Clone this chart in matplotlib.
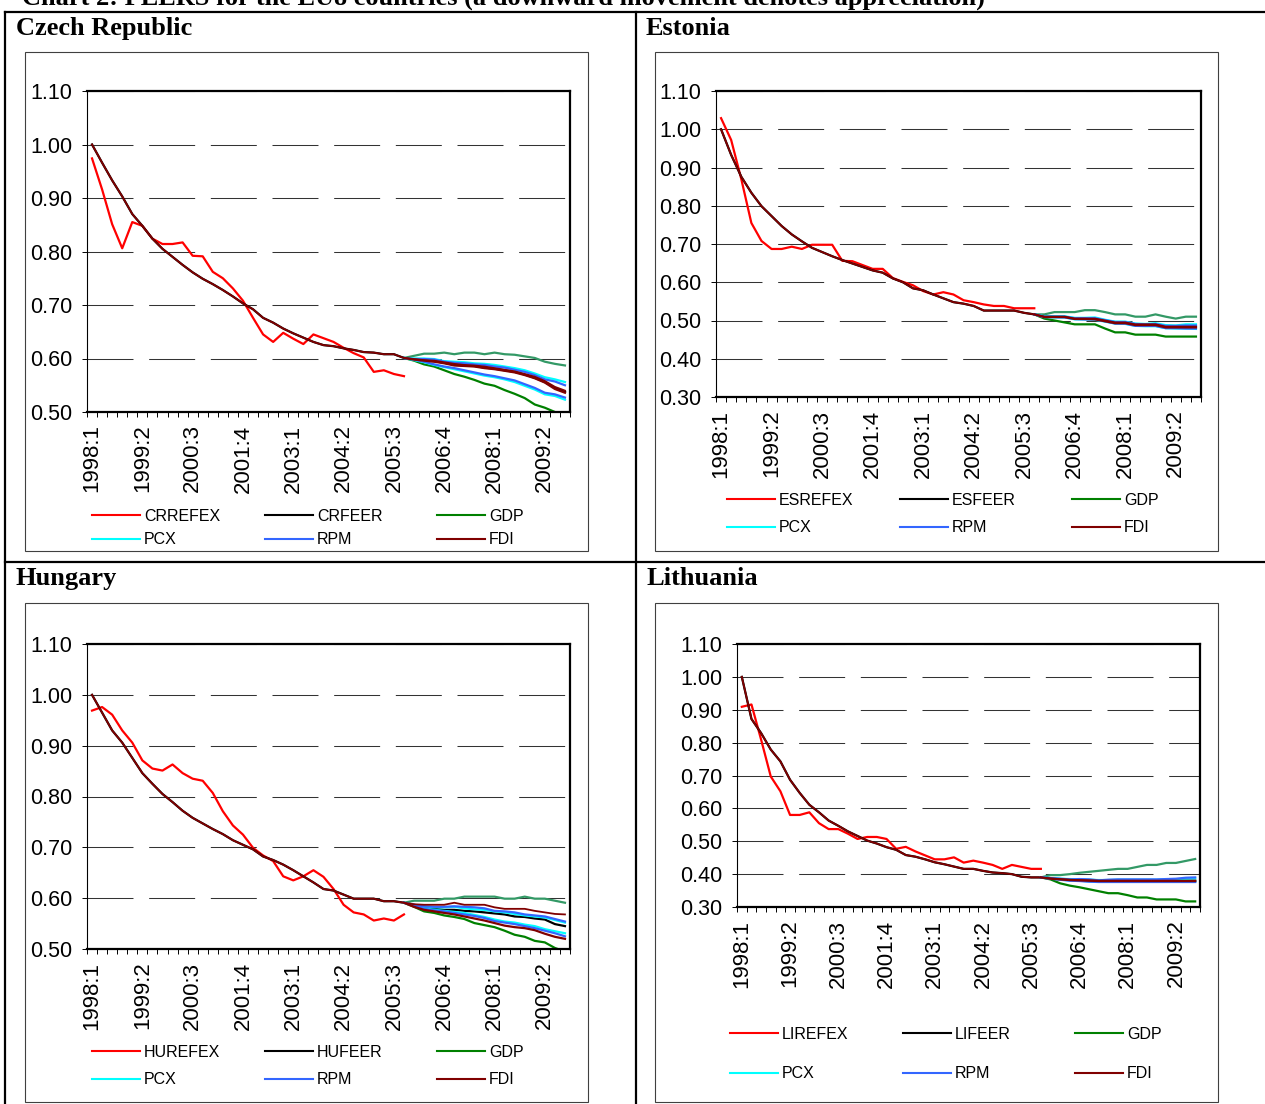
import numpy as np
import matplotlib.pyplot as plt
from matplotlib.lines import Line2D
from matplotlib.patches import Rectangle

W, H = 1265, 1104
plt.rcParams['font.family'] = ['Liberation Sans', 'DejaVu Sans']
plt.rcParams['lines.scale_dashes'] = False

quarters = [f'{y}:{q}' for y in range(1998, 2010) for q in range(1, 5)]
n_hist = 32      # REFEX observed up to 2005:4
f0 = 31          # scenarios start here

# ---- Czech Republic ----
cz_refex = [0.974, 0.916, 0.851, 0.806, 0.855, 0.848, 0.824, 0.814, 0.814, 0.817, 0.792, 0.791,
            0.762, 0.750, 0.731, 0.708, 0.676, 0.645, 0.631, 0.648, 0.637, 0.627, 0.645, 0.638,
            0.631, 0.620, 0.610, 0.602, 0.575, 0.578, 0.571, 0.567]
cz_feer = [1.000, 0.966, 0.933, 0.903, 0.870, 0.848, 0.824, 0.805, 0.790, 0.775, 0.761, 0.749,
           0.739, 0.728, 0.716, 0.703, 0.692, 0.676, 0.667, 0.656, 0.647, 0.639, 0.631, 0.625,
           0.623, 0.619, 0.616, 0.612, 0.611, 0.608, 0.608, 0.601,
           0.598, 0.596, 0.595, 0.592, 0.588, 0.587, 0.586, 0.583, 0.581, 0.578, 0.575, 0.570,
           0.564, 0.556, 0.545, 0.538]
cz_gdp_hi = [0.601, 0.605, 0.609, 0.609, 0.611, 0.608, 0.611, 0.611, 0.608, 0.611, 0.608, 0.607, 0.604, 0.601, 0.594, 0.590, 0.587]
cz_gdp_lo = [0.601, 0.596, 0.589, 0.585, 0.578, 0.571, 0.566, 0.560, 0.553, 0.549, 0.541, 0.534, 0.526, 0.514, 0.508, 0.500, 0.492]
cz_pcx_hi = [0.601, 0.600, 0.600, 0.599, 0.595, 0.594, 0.593, 0.591, 0.590, 0.588, 0.585, 0.582, 0.578, 0.572, 0.565, 0.561, 0.556]
cz_pcx_lo = [0.601, 0.597, 0.593, 0.588, 0.584, 0.580, 0.576, 0.572, 0.568, 0.565, 0.561, 0.556, 0.549, 0.542, 0.533, 0.530, 0.523]
cz_rpm_hi = [0.601, 0.599, 0.599, 0.598, 0.594, 0.592, 0.591, 0.589, 0.588, 0.585, 0.583, 0.579, 0.575, 0.569, 0.561, 0.557, 0.550]
cz_rpm_lo = [0.601, 0.598, 0.594, 0.589, 0.585, 0.582, 0.578, 0.574, 0.570, 0.567, 0.563, 0.559, 0.552, 0.545, 0.536, 0.533, 0.527]
cz_fdi_hi = [0.601, 0.599, 0.597, 0.596, 0.593, 0.590, 0.588, 0.587, 0.585, 0.582, 0.579, 0.576, 0.571, 0.566, 0.558, 0.547, 0.540]
cz_fdi_lo = [0.601, 0.598, 0.596, 0.594, 0.591, 0.587, 0.586, 0.585, 0.582, 0.580, 0.577, 0.574, 0.569, 0.563, 0.555, 0.543, 0.536]

# ---- Estonia ----
es_refex = [1.029, 0.972, 0.870, 0.755, 0.708, 0.687, 0.687, 0.693, 0.687, 0.698, 0.698, 0.698,
            0.656, 0.655, 0.645, 0.635, 0.635, 0.611, 0.601, 0.592, 0.577, 0.568, 0.574, 0.568,
            0.553, 0.548, 0.542, 0.538, 0.538, 0.532, 0.532, 0.532]
es_feer = [1.000, 0.933, 0.876, 0.834, 0.799, 0.773, 0.747, 0.725, 0.707, 0.690, 0.679, 0.668,
           0.658, 0.649, 0.640, 0.631, 0.625, 0.610, 0.600, 0.584, 0.579, 0.568, 0.558, 0.548,
           0.544, 0.538, 0.526, 0.526, 0.526, 0.526, 0.520, 0.516,
           0.510, 0.510, 0.510, 0.505, 0.505, 0.505, 0.500, 0.495, 0.495, 0.490, 0.490, 0.490,
           0.484, 0.484, 0.484, 0.484]
es_gdp_hi = [0.516, 0.516, 0.522, 0.522, 0.522, 0.527, 0.527, 0.522, 0.516, 0.516, 0.510, 0.510, 0.516, 0.510, 0.505, 0.510, 0.510]
es_gdp_lo = [0.516, 0.505, 0.500, 0.495, 0.490, 0.490, 0.490, 0.479, 0.469, 0.469, 0.463, 0.463, 0.463, 0.458, 0.458, 0.458, 0.458]
es_pcx_hi = [0.516, 0.511, 0.511, 0.511, 0.507, 0.507, 0.508, 0.502, 0.497, 0.497, 0.492, 0.491, 0.493, 0.488, 0.487, 0.490, 0.490]
es_pcx_lo = [0.516, 0.509, 0.508, 0.508, 0.503, 0.503, 0.502, 0.497, 0.492, 0.491, 0.486, 0.485, 0.485, 0.480, 0.479, 0.479, 0.478]
es_rpm_hi = [0.516, 0.510, 0.510, 0.510, 0.506, 0.506, 0.506, 0.501, 0.496, 0.496, 0.491, 0.490, 0.491, 0.486, 0.486, 0.487, 0.487]
es_rpm_lo = [0.516, 0.509, 0.509, 0.508, 0.504, 0.503, 0.503, 0.498, 0.492, 0.492, 0.486, 0.486, 0.486, 0.480, 0.480, 0.479, 0.479]
es_fdi_hi = [0.516, 0.510, 0.510, 0.510, 0.505, 0.505, 0.505, 0.500, 0.495, 0.495, 0.490, 0.490, 0.490, 0.484, 0.484, 0.484, 0.484]
es_fdi_lo = [0.516, 0.509, 0.509, 0.509, 0.504, 0.504, 0.503, 0.498, 0.493, 0.493, 0.488, 0.488, 0.488, 0.482, 0.482, 0.482, 0.482]

# ---- Hungary ----
hu_refex = [0.969, 0.976, 0.961, 0.930, 0.906, 0.871, 0.855, 0.851, 0.863, 0.846, 0.835, 0.831,
            0.807, 0.771, 0.743, 0.725, 0.699, 0.684, 0.673, 0.643, 0.635, 0.643, 0.655, 0.642,
            0.618, 0.587, 0.572, 0.568, 0.556, 0.560, 0.556, 0.568]
hu_feer = [1.000, 0.965, 0.930, 0.906, 0.876, 0.846, 0.825, 0.805, 0.789, 0.772, 0.758, 0.747,
           0.736, 0.726, 0.714, 0.705, 0.696, 0.682, 0.675, 0.666, 0.655, 0.643, 0.631, 0.618,
           0.615, 0.607, 0.599, 0.599, 0.599, 0.594, 0.594, 0.591,
           0.587, 0.582, 0.579, 0.577, 0.577, 0.575, 0.574, 0.572, 0.570, 0.568, 0.564, 0.563,
           0.560, 0.558, 0.549, 0.545]
hu_gdp_hi = [0.591, 0.595, 0.595, 0.595, 0.599, 0.599, 0.603, 0.603, 0.603, 0.603, 0.599, 0.599, 0.603, 0.599, 0.599, 0.595, 0.591]
hu_gdp_lo = [0.591, 0.583, 0.574, 0.571, 0.566, 0.563, 0.559, 0.551, 0.547, 0.543, 0.536, 0.528, 0.524, 0.516, 0.513, 0.502, 0.495]
hu_pcx_hi = [0.591, 0.586, 0.584, 0.582, 0.582, 0.583, 0.580, 0.578, 0.577, 0.574, 0.572, 0.569, 0.566, 0.564, 0.562, 0.557, 0.552]
hu_pcx_lo = [0.591, 0.586, 0.580, 0.577, 0.575, 0.573, 0.571, 0.567, 0.563, 0.558, 0.554, 0.552, 0.548, 0.545, 0.539, 0.535, 0.531]
hu_rpm_hi = [0.591, 0.587, 0.584, 0.583, 0.583, 0.584, 0.583, 0.582, 0.580, 0.575, 0.574, 0.572, 0.568, 0.566, 0.564, 0.559, 0.554]
hu_rpm_lo = [0.591, 0.585, 0.579, 0.576, 0.574, 0.571, 0.568, 0.565, 0.561, 0.555, 0.552, 0.549, 0.545, 0.541, 0.536, 0.531, 0.525]
hu_fdi_hi = [0.591, 0.588, 0.587, 0.587, 0.587, 0.591, 0.587, 0.587, 0.587, 0.582, 0.579, 0.579, 0.579, 0.575, 0.572, 0.569, 0.568]
hu_fdi_lo = [0.591, 0.583, 0.577, 0.574, 0.571, 0.568, 0.564, 0.560, 0.556, 0.551, 0.546, 0.543, 0.541, 0.537, 0.530, 0.524, 0.520]

# ---- Lithuania ----
li_refex = [0.909, 0.916, 0.809, 0.697, 0.652, 0.580, 0.580, 0.588, 0.555, 0.537, 0.537, 0.523,
            0.507, 0.513, 0.513, 0.507, 0.477, 0.483, 0.469, 0.457, 0.445, 0.445, 0.451, 0.435,
            0.441, 0.435, 0.428, 0.416, 0.428, 0.422, 0.416, 0.416]
li_feer = [1.000, 0.872, 0.829, 0.779, 0.743, 0.687, 0.647, 0.611, 0.588, 0.563, 0.547, 0.530,
           0.516, 0.502, 0.493, 0.482, 0.474, 0.458, 0.453, 0.445, 0.436, 0.430, 0.423, 0.416,
           0.416, 0.410, 0.405, 0.403, 0.400, 0.392, 0.390, 0.390,
           0.387, 0.385, 0.383, 0.382, 0.381, 0.380, 0.380, 0.380, 0.380, 0.380, 0.380, 0.380,
           0.380, 0.380, 0.380, 0.380]
li_gdp_hi = [0.390, 0.397, 0.397, 0.400, 0.404, 0.407, 0.410, 0.413, 0.416, 0.416, 0.422, 0.428, 0.428, 0.434, 0.434, 0.440, 0.446]
li_gdp_lo = [0.390, 0.384, 0.372, 0.365, 0.360, 0.354, 0.348, 0.342, 0.342, 0.336, 0.329, 0.329, 0.323, 0.323, 0.323, 0.317, 0.317]
li_pcx_hi = [0.390, 0.388, 0.386, 0.385, 0.384, 0.383, 0.382, 0.382, 0.383, 0.383, 0.383, 0.383, 0.383, 0.384, 0.384, 0.386, 0.387]
li_pcx_lo = [0.390, 0.386, 0.384, 0.381, 0.380, 0.378, 0.377, 0.377, 0.377, 0.377, 0.377, 0.377, 0.377, 0.377, 0.377, 0.377, 0.377]
li_rpm_hi = [0.390, 0.388, 0.386, 0.384, 0.385, 0.384, 0.381, 0.383, 0.384, 0.384, 0.384, 0.384, 0.384, 0.385, 0.386, 0.389, 0.390]
li_rpm_lo = [0.390, 0.386, 0.383, 0.380, 0.379, 0.377, 0.376, 0.376, 0.376, 0.376, 0.376, 0.376, 0.376, 0.376, 0.376, 0.376, 0.376]
li_fdi_hi = [0.390, 0.387, 0.385, 0.383, 0.382, 0.381, 0.380, 0.380, 0.380, 0.380, 0.380, 0.380, 0.380, 0.380, 0.380, 0.380, 0.380]
li_fdi_lo = [0.390, 0.386, 0.384, 0.382, 0.381, 0.380, 0.379, 0.379, 0.379, 0.379, 0.379, 0.379, 0.379, 0.379, 0.379, 0.379, 0.379]

colors = {'refex': '#FF0000', 'feer': '#000000', 'gdp': '#008000', 'gdp_hi': '#339966',
          'pcx': '#00FFFF', 'rpm': '#3366FF', 'fdi': '#800000'}


def rect(x0, x1, y0, y1):
    # pixel box (top-left origin) -> figure fraction
    return [x0 / W, 1 - y1 / H, (x1 - x0) / W, (y1 - y0) / H]


panels = [
    dict(title='Czech Republic', code='CR', refex=cz_refex, feer=cz_feer,
         gdp=(cz_gdp_hi, cz_gdp_lo), pcx=(cz_pcx_hi, cz_pcx_lo), rpm=(cz_rpm_hi, cz_rpm_lo), fdi=(cz_fdi_hi, cz_fdi_lo),
         ylim=(0.5, 1.1), ax=(87, 570, 91, 412), box=(25, 588, 52, 551), tpos=(16, 35),
         legx=(92, 265, 437), legy=(516, 540)),
    dict(title='Estonia', code='ES', refex=es_refex, feer=es_feer,
         gdp=(es_gdp_hi, es_gdp_lo), pcx=(es_pcx_hi, es_pcx_lo), rpm=(es_rpm_hi, es_rpm_lo), fdi=(es_fdi_hi, es_fdi_lo),
         ylim=(0.3, 1.1), ax=(716, 1201, 91, 397), box=(655, 1218, 52, 551), tpos=(646, 35),
         legx=(727, 900, 1072), legy=(500, 528)),
    dict(title='Hungary', code='HU', refex=hu_refex, feer=hu_feer,
         gdp=(hu_gdp_hi, hu_gdp_lo), pcx=(hu_pcx_hi, hu_pcx_lo), rpm=(hu_rpm_hi, hu_rpm_lo), fdi=(hu_fdi_hi, hu_fdi_lo),
         ylim=(0.5, 1.1), ax=(87, 570, 644, 949), box=(25, 588, 603, 1102), tpos=(16, 585),
         legx=(92, 265, 437), legy=(1052, 1080)),
    dict(title='Lithuania', code='LI', refex=li_refex, feer=li_feer,
         gdp=(li_gdp_hi, li_gdp_lo), pcx=(li_pcx_hi, li_pcx_lo), rpm=(li_rpm_hi, li_rpm_lo), fdi=(li_fdi_hi, li_fdi_lo),
         ylim=(0.3, 1.1), ax=(737, 1200, 644, 907), box=(655, 1218, 603, 1102), tpos=(646, 585),
         legx=(730, 903, 1075), legy=(1034, 1074)),
]

fig = plt.figure(figsize=(W / 100, H / 100), dpi=100)

# table frame
for xs, ys in [((5, 5), (12, H)), ((635.5, 635.5), (12, H)), ((5, W), (12, 12)), ((5, W), (562, 562))]:
    fig.add_artist(Line2D([x / W for x in xs], [1 - y / H for y in ys], color='black', lw=1.6))

fig.text(22 / W, 1 - 5 / H, 'Chart 2: FEERS for the EU8 countries (a downward movement denotes appreciation)',
         family='Liberation Serif', weight='bold', fontsize=19, va='baseline')

x_all = np.arange(len(quarters))
x_hist = np.arange(n_hist)
x_fc = np.arange(f0, len(quarters))

for p in panels:
    bx = p['box']
    fig.add_artist(Rectangle((bx[0] / W, 1 - bx[3] / H), (bx[1] - bx[0]) / W, (bx[3] - bx[2]) / H,
                             transform=fig.transFigure, fill=False, edgecolor='#404040', lw=0.8))
    fig.text(p['tpos'][0] / W, 1 - p['tpos'][1] / H, p['title'], family='Liberation Serif',
             weight='bold', fontsize=19, va='baseline')

    ax = fig.add_axes(rect(*p['ax']))
    lw = 1.6
    ax.plot(x_hist, p['refex'], color=colors['refex'], lw=lw)
    ax.plot(x_all, p['feer'], color=colors['feer'], lw=lw)
    ax.plot(x_fc, p['gdp'][0], color=colors['gdp_hi'], lw=lw)
    ax.plot(x_fc, p['gdp'][1], color=colors['gdp'], lw=lw)
    for key in ['pcx', 'rpm']:
        ax.plot(x_fc, p[key][0], color=colors[key], lw=lw)
        ax.plot(x_fc, p[key][1], color=colors[key], lw=lw)
    fdi_full = p['feer'][:f0] + p['fdi'][0]
    ax.plot(x_all, fdi_full, color=colors['fdi'], lw=1.3)
    ax.plot(x_fc, p['fdi'][1], color=colors['fdi'], lw=lw)

    lo, hi = p['ylim']
    ax.set_ylim(lo, hi)
    ax.set_xlim(-0.5, len(quarters) - 0.5)
    ax.set_yticks(np.arange(lo, hi + 0.001, 0.1))
    ax.yaxis.set_major_formatter('{x:.2f}')
    ax.set_xticks(x_all[::5])
    ax.set_xticklabels(quarters[::5])
    ax.set_xticks(np.arange(-0.5, len(quarters), 1), minor=True)
    ax.tick_params(axis='x', which='major', length=0, pad=9, labelrotation=90, labelsize=16)
    ax.tick_params(axis='x', which='minor', length=3.6, width=0.7, direction='out')
    ax.tick_params(axis='y', length=3.6, width=0.7, pad=7, labelsize=15.5)
    ax.yaxis.grid(True, color='#333333', lw=0.75, linestyle=(0, (33.1, 11.3)))
    ax.set_axisbelow(True)
    for side in ['top', 'right', 'bottom']:
        ax.spines[side].set_linewidth(1.6)
    ax.spines['left'].set_linewidth(0.8)

    # legend, three columns placed separately
    cols = [[('refex', p['code'] + 'REFEX'), ('pcx', 'PCX')],
            [('feer', p['code'] + 'FEER'), ('rpm', 'RPM')],
            [('gdp', 'GDP'), ('fdi', 'FDI')]]
    pitch = p['legy'][1] - p['legy'][0]
    ymid = sum(p['legy']) / 2
    for cx, col in zip(p['legx'], cols):
        handles = [Line2D([], [], color=colors[k], lw=1.5) for k, _ in col]
        fig.legend(handles, [t for _, t in col], loc='center left',
                   bbox_to_anchor=(cx / W, 1 - ymid / H), frameon=False, borderpad=0,
                   borderaxespad=0, handlelength=3.0, handletextpad=0.25,
                   labelspacing=(pitch - 15.4) / 16, fontsize=11.5)

fig.savefig('out.png', dpi=100)
